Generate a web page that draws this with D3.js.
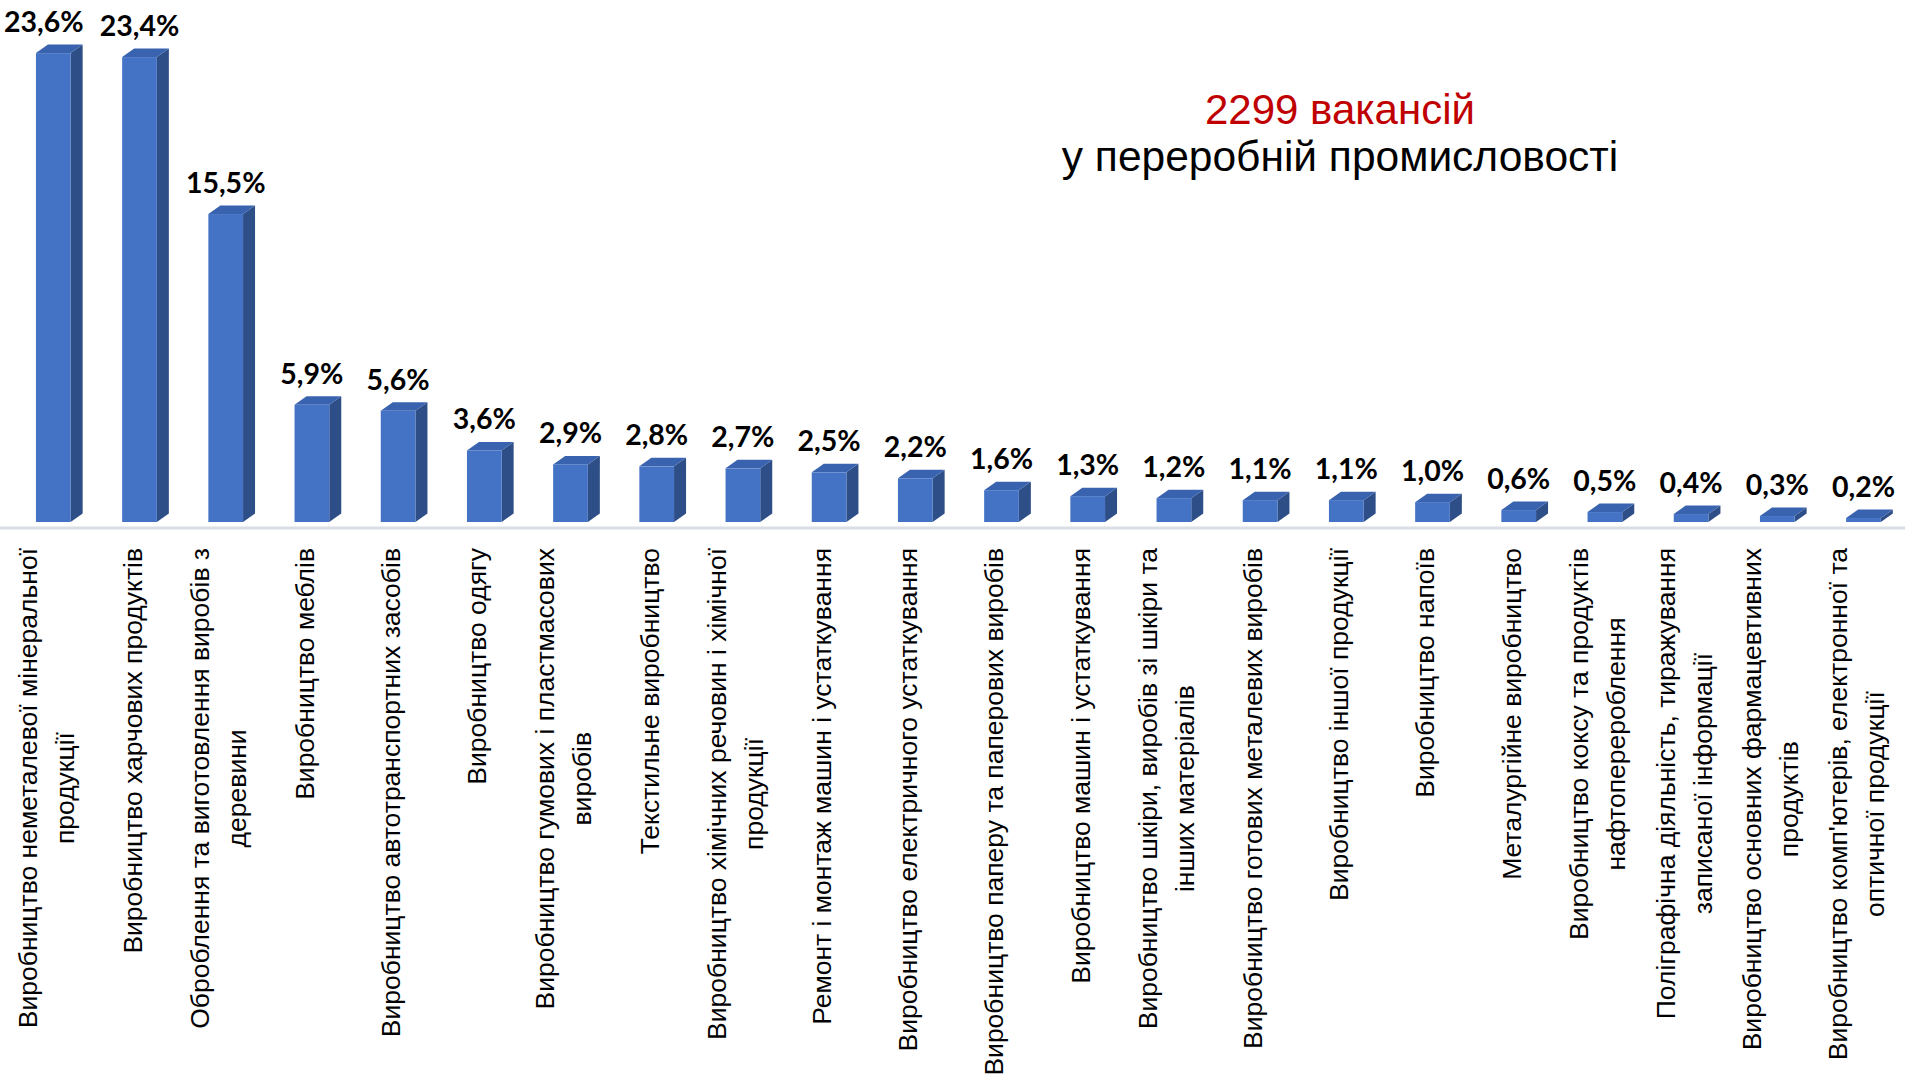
<!DOCTYPE html>
<html>
<head>
<meta charset="utf-8">
<script src="https://cdn.jsdelivr.net/npm/d3@7"></script>
<style>
  html, body { margin: 0; padding: 0; background: #ffffff; }
  svg { display: block; }
</style>
</head>
<body>
<svg id="chart" width="1905" height="1082"></svg>
<script>
const categories = [
  "Виробництво неметалевої мінеральної\nпродукції",
  "Виробництво харчових продуктів",
  "Оброблення та виготовлення виробів з\nдеревини",
  "Виробництво меблів",
  "Виробництво автотранспортних засобів",
  "Виробництво одягу",
  "Виробництво гумових і пластмасових\nвиробів",
  "Текстильне виробництво",
  "Виробництво хімічних речовин і хімічної\nпродукції",
  "Ремонт і монтаж машин і устаткування",
  "Виробництво електричного устаткування",
  "Виробництво паперу та паперових виробів",
  "Виробництво машин і устаткування",
  "Виробництво шкіри, виробів зі шкіри та\nінших матеріалів",
  "Виробництво готових металевих виробів",
  "Виробництво іншої продукції",
  "Виробництво напоїв",
  "Металургійне виробництво",
  "Виробництво коксу та продуктів\nнафтоперероблення",
  "Поліграфічна діяльність, тиражування\nзаписаної інформації",
  "Виробництво основних фармацевтивних\nпродуктів",
  "Виробництво комп'ютерів, електронної та\nоптичної продукції"
];
const values = [23.6, 23.4, 15.5, 5.9, 5.6, 3.6, 2.9, 2.8, 2.7, 2.5, 2.2, 1.6, 1.3, 1.2, 1.1, 1.1, 1.0, 0.6, 0.5, 0.4, 0.3, 0.2];
const titleLines = ["2299 вакансій", "у переробній промисловості"];

const svg = d3.select("#chart");
const W = 1905, H = 1082;
const baseY = 522;

const x = d3.scaleBand()
  .domain(categories)
  .range([10.1, 1906.7])
  .paddingInner(0.5975)
  .paddingOuter(0.3);
const y = d3.scaleLinear().domain([0, 25]).range([baseY, 25.3]);

const depthX = 12, depthY = 8.5;
const fmt = v => d3.format(".1f")(v).replace(".", ",") + "%";

// floor line
svg.append("line")
  .attr("x1", 0).attr("x2", W)
  .attr("y1", baseY + 6).attr("y2", baseY + 6)
  .attr("stroke", "#DADEE5").attr("stroke-width", 3);

const data = categories.map((c, i) => ({c, v: values[i]}));
const bars = svg.append("g").selectAll("g.bar").data(data).join("g").attr("class", "bar");

bars.each(function(d, i) {
  const g = d3.select(this);
  const x0 = x(d.c), bw = x.bandwidth();
  const yt = y(d.v), yb = y(0);
  // side face
  g.append("path")
    .attr("d", `M${x0 + bw},${yb} L${x0 + bw + depthX},${yb - depthY} L${x0 + bw + depthX},${yt - depthY} L${x0 + bw},${yt} Z`)
    .attr("fill", "#2E4E88");
  // top face
  g.append("path")
    .attr("d", `M${x0},${yt} L${x0 + depthX},${yt - depthY} L${x0 + bw + depthX},${yt - depthY} L${x0 + bw},${yt} Z`)
    .attr("fill", "#3A63AF");
  // front face
  g.append("rect")
    .attr("x", x0).attr("y", yt)
    .attr("width", bw).attr("height", yb - yt)
    .attr("fill", "#4472C4");
  // value label
  const lab = g.append("text")
    .attr("y", yt - 21)
    .attr("text-anchor", "middle")
    .attr("font-family", "Lato, 'Open Sans', sans-serif")
    .attr("font-weight", "bold")
    .attr("font-size", 28.5)
    .attr("fill", "#000")
    .text(fmt(d.v));
  const half = lab.node().getComputedTextLength() / 2;
  lab.attr("x", i === 0 ? Math.max(half + 4, x0 + bw / 2 - 10) : x0 + bw / 2);
});

// category labels (rotated)
const labelTop = 548, lineStep = 37;
const labels = svg.append("g").selectAll("g.lab").data(categories).join("g")
  .attr("class", "lab")
  .attr("transform", c => `translate(${x(c) + x.bandwidth() / 2 - 6},${labelTop}) rotate(-90)`);

labels.each(function(c) {
  const g = d3.select(this);
  const lines = c.split("\n");
  const n = lines.length;
  const texts = lines.map((ln, i) => g.append("text")
    .attr("text-anchor", "middle")
    .attr("font-family", "'Liberation Sans', Arial, sans-serif")
    .attr("font-size", 26.5)
    .attr("fill", "#000")
    .attr("y", (i - (n - 1) / 2) * lineStep + 8)
    .text(ln));
  const maxW = d3.max(texts, t => t.node().getComputedTextLength());
  texts.forEach(t => t.attr("x", -maxW / 2));
});

// title
const title = svg.append("g");
title.append("text")
  .attr("x", 1340).attr("y", 124)
  .attr("text-anchor", "middle")
  .attr("font-family", "'Liberation Sans', Arial, sans-serif")
  .attr("font-size", 42)
  .attr("fill", "#C00000")
  .text(titleLines[0]);
title.append("text")
  .attr("x", 1340).attr("y", 171)
  .attr("text-anchor", "middle")
  .attr("font-family", "'Liberation Sans', Arial, sans-serif")
  .attr("font-size", 42.5)
  .attr("fill", "#000")
  .text(titleLines[1]);
</script>
</body>
</html>
